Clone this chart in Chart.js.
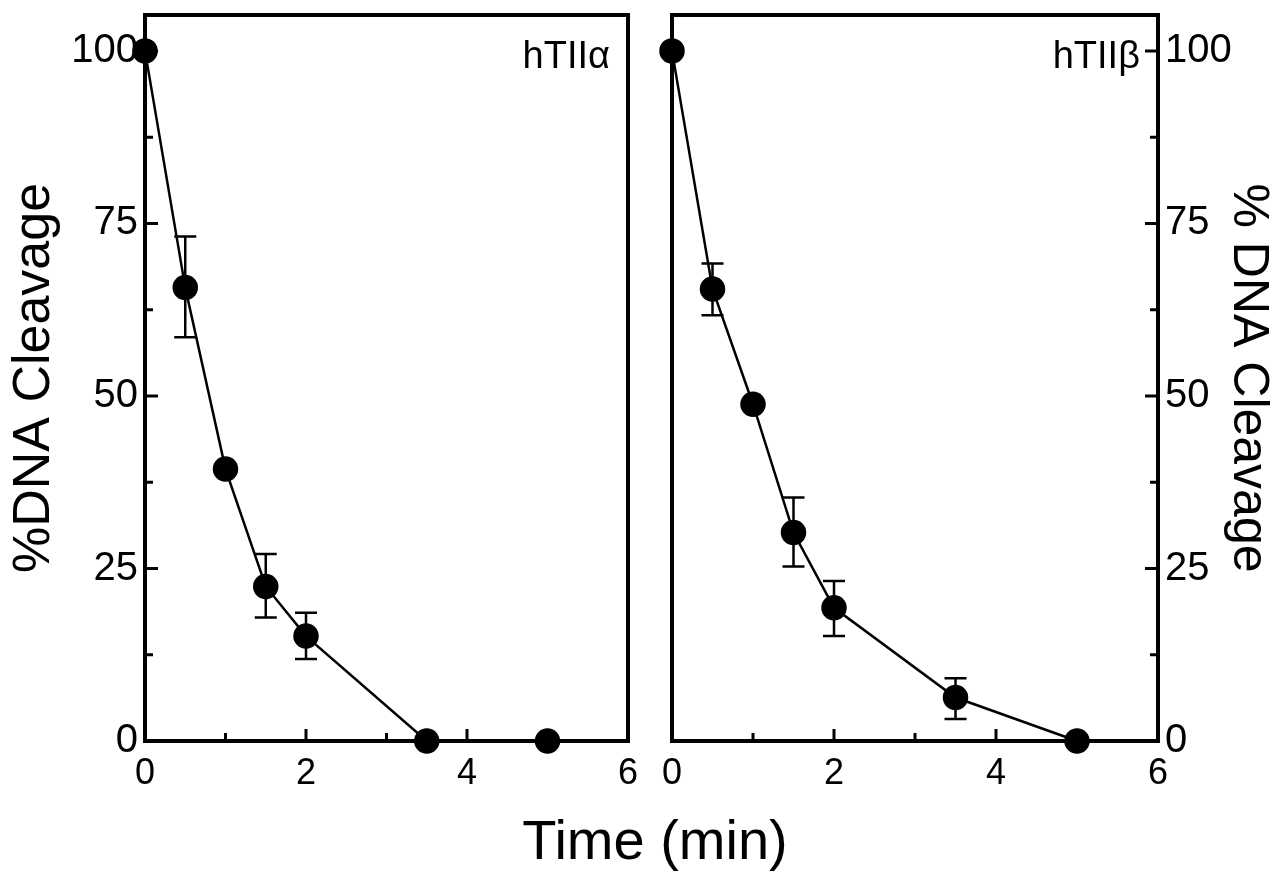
<!DOCTYPE html>
<html>
<head>
<meta charset="utf-8">
<script src="https://cdn.jsdelivr.net/npm/chart.js@4.4.1/dist/chart.umd.min.js"></script>
<style>
  html, body { margin: 0; padding: 0; background: #fff; }
  body { width: 1279px; height: 873px; position: relative; overflow: hidden; }
  .panel { position: absolute; top: 0; height: 800px; }
  #leftWrap { left: 0; width: 645px; }
  #rightWrap { left: 645px; width: 634px; }
  #xTitle {
    position: absolute; left: 455px; width: 400px; top: 812px;
    text-align: center; font: 56px/56px "Liberation Sans", Arial, sans-serif; color: #000;
  }
</style>
</head>
<body>
<div id="leftWrap" class="panel"><canvas id="alphaChart"></canvas></div>
<div id="rightWrap" class="panel"><canvas id="betaChart"></canvas></div>
<div id="xTitle">Time (min)</div>
<script>
const times = [0, 0.5, 1, 1.5, 2, 3.5, 5];

const alphaValues = [100, 65.7, 39.4, 22.4, 15.2, 0, 0];
const alphaUpper = [null, 73.1, null, 27.1, 18.6, null, null];
const alphaLower = [null, 58.5, null, 17.9, 11.9, null, null];

const betaValues = [100, 65.5, 48.8, 30.2, 19.3, 6.3, 0];
const betaUpper = [null, 69.2, null, 35.3, 23.2, 9.1, null];
const betaLower = [null, 61.7, null, 25.3, 15.2, 3.2, null];

const yLabelTicks = [0, 25, 50, 75, 100];
const yMinorTicks = [12.5, 37.5, 62.5, 87.5];
const xLabelTicks = [0, 2, 4, 6];
const xMinorTicks = [1, 3, 5];

const FONT = '"Liberation Sans", Arial, sans-serif';

// frame, inward ticks, error bars, panel label
const panelPlugin = {
  id: 'panel',
  beforeDatasetsDraw(chart, args, opts) {
    const { ctx, chartArea: a, scales: { x, y } } = chart;
    ctx.save();
    ctx.strokeStyle = '#000';
    ctx.lineWidth = 4;
    ctx.strokeRect(a.left, a.top, a.right - a.left, a.bottom - a.top);

    ctx.lineWidth = 3;
    ctx.beginPath();
    const side = opts.side;
    const yEdge = side === 'left' ? a.left : a.right;
    const dir = side === 'left' ? 1 : -1;
    yLabelTicks.forEach(v => {
      const py = y.getPixelForValue(v);
      ctx.moveTo(yEdge, py); ctx.lineTo(yEdge + dir * 13, py);
    });
    yMinorTicks.forEach(v => {
      const py = y.getPixelForValue(v);
      ctx.moveTo(yEdge, py); ctx.lineTo(yEdge + dir * 8, py);
    });
    xLabelTicks.forEach(v => {
      const px = x.getPixelForValue(v);
      ctx.moveTo(px, a.bottom); ctx.lineTo(px, a.bottom - 12);
    });
    xMinorTicks.forEach(v => {
      const px = x.getPixelForValue(v);
      ctx.moveTo(px, a.bottom); ctx.lineTo(px, a.bottom - 8);
    });
    ctx.stroke();

    // error bars
    ctx.lineWidth = 2.5;
    ctx.beginPath();
    opts.upper.forEach((u, i) => {
      if (u === null) return;
      const px = x.getPixelForValue(times[i]);
      const pu = y.getPixelForValue(u);
      const pl = y.getPixelForValue(opts.lower[i]);
      ctx.moveTo(px, pu); ctx.lineTo(px, pl);
      ctx.moveTo(px - 11, pu); ctx.lineTo(px + 11, pu);
      ctx.moveTo(px - 11, pl); ctx.lineTo(px + 11, pl);
    });
    ctx.stroke();

    ctx.fillStyle = '#000';
    ctx.font = '38px ' + FONT;
    ctx.textAlign = 'right';
    ctx.textBaseline = 'middle';
    ctx.fillText(opts.label, a.right - 18, a.top + 43);
    ctx.restore();
  }
};

function makeChart(id, values, upper, lower, label, side, yTitle, titleSize, padLeft, padRight, yWidth, titlePad) {
  return new Chart(document.getElementById(id), {
    type: 'line',
    data: {
      datasets: [{
        data: times.map((t, i) => ({ x: t, y: values[i] })),
        borderColor: '#000',
        borderWidth: 2.5,
        backgroundColor: '#000',
        pointBackgroundColor: '#000',
        pointBorderColor: '#000',
        pointRadius: 11.5,
        pointHoverRadius: 11.5,
        tension: 0,
        clip: false
      }]
    },
    options: {
      responsive: true,
      maintainAspectRatio: false,
      animation: false,
      events: [],
      layout: { padding: { top: 15, left: padLeft, right: padRight, bottom: 0 } },
      plugins: {
        legend: { display: false },
        tooltip: { enabled: false },
        panel: { side, upper, lower, label }
      },
      scales: {
        x: {
          type: 'linear',
          min: 0,
          max: 6,
          grid: { display: false, drawTicks: false },
          border: { display: false },
          afterBuildTicks: s => { s.ticks = xLabelTicks.map(v => ({ value: v })); },
          afterFit: s => { s.height = 59; s.paddingLeft = 0; s.paddingRight = 0; },
          ticks: {
            color: '#000',
            font: { family: FONT, size: 36 },
            padding: 11,
            autoSkip: false,
            maxRotation: 0
          }
        },
        y: {
          type: 'linear',
          position: side,
          min: 0,
          max: 105.2,
          grid: { display: false, drawTicks: false },
          border: { display: false },
          afterBuildTicks: s => { s.ticks = yLabelTicks.map(v => ({ value: v })); },
          afterFit: s => { s.width = yWidth; s.paddingTop = 0; s.paddingBottom = 0; },
          ticks: {
            color: '#000',
            font: { family: FONT, size: 40 },
            padding: 7
          },
          title: {
            display: true,
            text: yTitle,
            color: '#000',
            font: { family: FONT, size: titleSize },
            padding: { top: titlePad, bottom: 0 }
          }
        }
      }
    },
    plugins: [panelPlugin]
  });
}

makeChart('alphaChart', alphaValues, alphaUpper, alphaLower, 'hTIIα', 'left', '%DNA Cleavage', 52, 0, 17, 145, 3);
makeChart('betaChart', betaValues, betaUpper, betaLower, 'hTIIβ', 'right', '% DNA Cleavage', 50, 27, 0, 121, 1);
</script>
</body>
</html>
